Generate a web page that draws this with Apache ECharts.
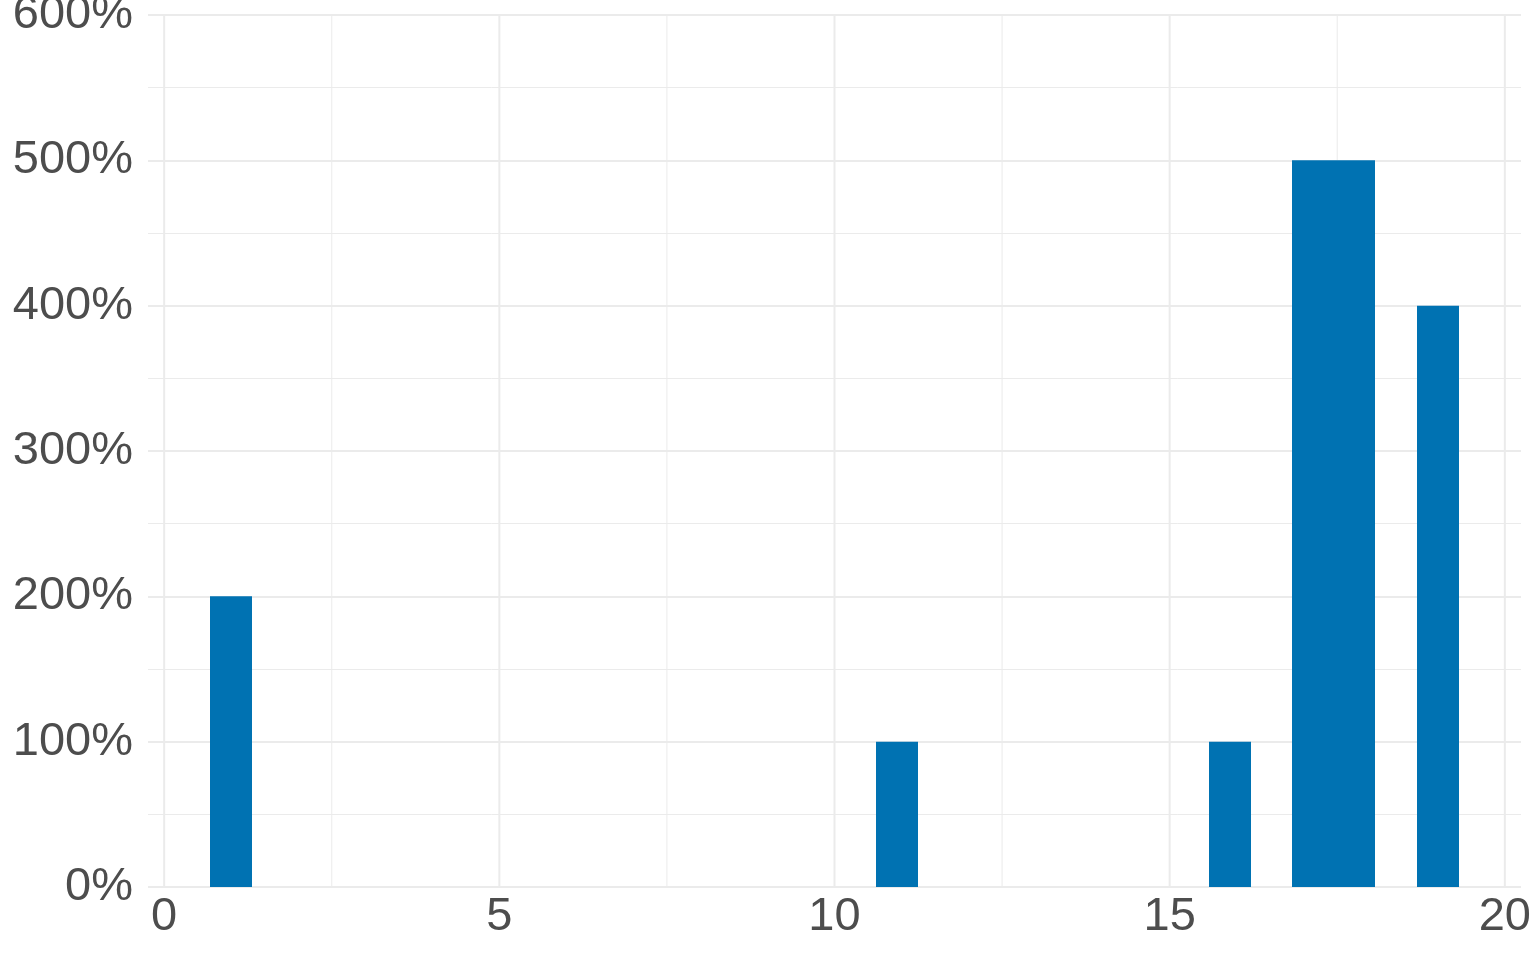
<!DOCTYPE html>
<html>
<head>
<meta charset="utf-8">
<script src="https://cdn.jsdelivr.net/npm/echarts@6/dist/echarts.min.js"></script>
<style>
html,body{margin:0;padding:0;background:#fff;}
#chart{width:1536px;height:960px;}
</style>
</head>
<body>
<div id="chart"></div>
<script>
// Histogram bins (centres) and their heights (in %)
const binCenters = [1, 10.931, 15.897, 17.138, 17.759, 19];
const binWidth = 0.6207;
const counts = [200, 100, 100, 500, 500, 400];
const xTicks = [0, 5, 10, 15, 20];
const xMinorTicks = [2.5, 7.5, 12.5, 17.5];
const xRange = [-0.2414, 20.2414];
const yRange = [0, 600];

const FONT = "'Liberation Sans', Arial, Helvetica, sans-serif";
const barColor = '#0072B2';
const gridColor = '#ebebeb';

const barData = binCenters.map((c, i) => [c - binWidth / 2, c + binWidth / 2, counts[i]]);
const vLines = xTicks.map(v => [v, 2]).concat(xMinorTicks.map(v => [v, 1]));

const chart = echarts.init(document.getElementById('chart'), null, {renderer: 'canvas'});
chart.setOption({
  animation: false,
  backgroundColor: '#ffffff',
  grid: {left: 148, right: 15, top: 15, bottom: 73, containLabel: false, outerBoundsMode: 'none'},
  xAxis: {
    type: 'value',
    min: xRange[0],
    max: xRange[1],
    axisLine: {show: false},
    axisTick: {show: false},
    splitLine: {show: false},
    axisLabel: {
      customValues: xTicks,
      color: '#4d4d4d',
      fontSize: 47,
      fontFamily: FONT,
      margin: 7,
      showMinLabel: true,
      showMaxLabel: true
    }
  },
  yAxis: {
    type: 'value',
    min: yRange[0],
    max: yRange[1],
    interval: 100,
    axisLine: {show: false},
    axisTick: {show: false},
    minorTick: {show: false, splitNumber: 2},
    splitLine: {show: true, lineStyle: {color: gridColor, width: 2}},
    minorSplitLine: {show: true, lineStyle: {color: gridColor, width: 1}},
    axisLabel: {
      formatter: '{value}%',
      color: '#4d4d4d',
      fontSize: 47,
      fontFamily: FONT,
      margin: 15
    }
  },
  series: [
    {
      type: 'custom',
      silent: true,
      z: 1,
      data: vLines,
      renderItem: function (params, api) {
        const v = api.value(0);
        const w = api.value(1);
        const top = api.coord([v, yRange[1]]);
        const bot = api.coord([v, yRange[0]]);
        return {
          type: 'line',
          shape: {x1: top[0], y1: top[1], x2: bot[0], y2: bot[1]},
          style: {stroke: gridColor, lineWidth: w}
        };
      }
    },
    {
      type: 'custom',
      z: 2,
      data: barData,
      encode: {x: [0, 1], y: 2},
      renderItem: function (params, api) {
        const p0 = api.coord([api.value(0), api.value(2)]);
        const p1 = api.coord([api.value(1), 0]);
        const x0 = Math.round(p0[0]), x1 = Math.round(p1[0]);
        return {
          type: 'rect',
          shape: {x: x0, y: p0[1], width: x1 - x0, height: p1[1] - p0[1]},
          style: {fill: barColor}
        };
      }
    }
  ]
});
</script>
</body>
</html>
